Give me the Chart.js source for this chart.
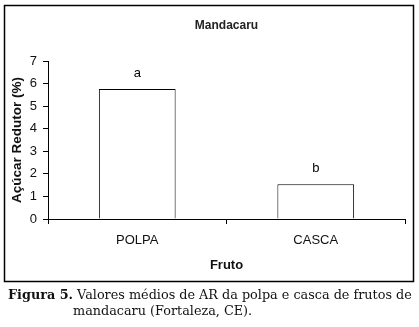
<!DOCTYPE html>
<html>
<head>
<meta charset="utf-8">
<script src="https://cdn.jsdelivr.net/npm/chart.js@4/dist/chart.umd.min.js"></script>
<style>
    html, body { margin: 0; padding: 0; background: #fff; }
    #wrap { position: relative; width: 419px; height: 327px; }
    #myChart { position: absolute; left: 0; top: 0; }
    .caption {
        position: absolute; left: 8px; top: 287px; width: 411px;
        font-family: "DejaVu Serif", serif; font-size: 12.8px; color: #111;
        line-height: 16px; white-space: nowrap;
    }
    .caption b { font-weight: bold; }
</style>
</head>
<body>
<div id="wrap">
    <canvas id="myChart" width="419" height="327"></canvas>
    <div class="caption">
        <div><b>Figura 5.</b> Valores médios de AR da polpa e casca de frutos de</div>
        <div style="padding-left:65px">mandacaru (Fortaleza, CE).</div>
    </div>
</div>
<script>
// data
var categories = ['POLPA', 'CASCA'];
var acucarRedutor = [5.76, 1.54];
var letters = ['a', 'b'];
var yTicks = [0, 1, 2, 3, 4, 5, 6, 7];

// outer frame around the figure
var framePlugin = {
    id: 'frame',
    beforeDraw: function (chart) {
        var ctx = chart.ctx;
        ctx.save();
        ctx.strokeStyle = '#000';
        ctx.lineWidth = 1.5;
        ctx.strokeRect(4.5, 5.5, 409, 276);
        ctx.restore();
    }
};

// letters above the bars
var letterPlugin = {
    id: 'letters',
    afterDatasetsDraw: function (chart) {
        var ctx = chart.ctx;
        var meta = chart.getDatasetMeta(0);
        ctx.save();
        ctx.fillStyle = '#000';
        ctx.font = '13px "Liberation Sans", Arial, sans-serif';
        ctx.textAlign = 'center';
        ctx.textBaseline = 'middle';
        meta.data.forEach(function (bar, i) {
            ctx.fillText(letters[i], bar.x, bar.y - 16);
        });
        ctx.restore();
    }
};

var ctx = document.getElementById('myChart').getContext('2d');
var myChart = new Chart(ctx, {
    type: 'bar',
    data: {
        labels: categories,
        datasets: [{
            data: acucarRedutor,
            backgroundColor: '#fff',
            borderColor: '#000',
            borderWidth: 1,
            barPercentage: 0.43,
            categoryPercentage: 1
        }]
    },
    options: {
        responsive: false,
        animation: false,
        layout: {
            padding: { left: 0, right: 14, top: 0, bottom: 54 }
        },
        plugins: {
            legend: { display: false },
            tooltip: { enabled: false },
            title: {
                display: true,
                text: 'Mandacaru',
                fullSize: false,
                color: '#222',
                font: { family: '"Liberation Sans", Arial, sans-serif', size: 12, weight: 'bold' },
                padding: { top: 18, bottom: 28.6 }
            }
        },
        scales: {
            x: {
                offset: true,
                grid: { offset: true, drawOnChartArea: false, color: '#000', tickLength: 5 },
                border: { color: '#000', width: 1 },
                ticks: {
                    color: '#111', padding: 9,
                    font: { family: '"Liberation Sans", Arial, sans-serif', size: 13 }
                },
                title: {
                    display: true,
                    text: 'Fruto',
                    color: '#111',
                    font: { family: '"Liberation Sans", Arial, sans-serif', size: 13, weight: 'bold' },
                    padding: { top: 6, bottom: 0 }
                },
                afterFit: function (scale) { scale.height = 54; }
            },
            y: {
                min: 0,
                max: 7,
                afterBuildTicks: function (scale) {
                    scale.ticks = yTicks.map(function (v) { return { value: v }; });
                },
                grid: { drawOnChartArea: false, color: '#000', tickLength: 5 },
                border: { color: '#000', width: 1 },
                ticks: {
                    color: '#111', padding: 6,
                    font: { family: '"Liberation Sans", Arial, sans-serif', size: 13 }
                },
                title: {
                    display: true,
                    text: 'Açúcar Redutor (%)',
                    color: '#111',
                    font: { family: '"Liberation Sans", Arial, sans-serif', size: 13.5, weight: 'bold' },
                    padding: { top: 9, bottom: 0 }
                },
                afterFit: function (scale) { scale.width = 48; }
            }
        }
    },
    plugins: [framePlugin, letterPlugin]
});
</script>
</body>
</html>
